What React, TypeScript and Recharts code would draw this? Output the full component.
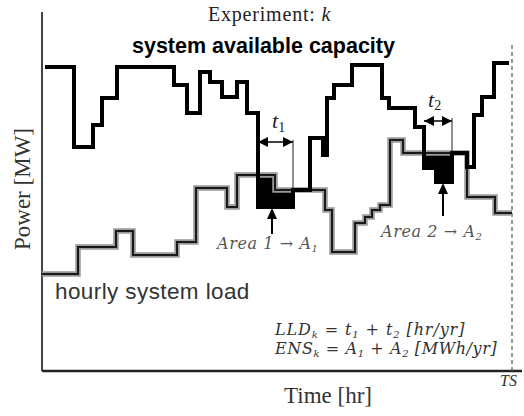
import React from 'react'
import { ComposedChart, Line, Area, XAxis, YAxis, ReferenceLine, ReferenceDot } from 'recharts'

// step breakpoints (x = time, y = power, arbitrary units)
const capacityX = [3, 32, 51, 60, 75, 132, 145, 158, 168, 180, 195, 205, 216, 251, 268, 281, 285, 292, 310, 340, 347, 373, 382, 394, 410, 425, 432, 440, 452, 467]
const capacityY = [304, 224, 246, 273, 304, 286, 258, 299, 289, 274, 289, 258, 164, 181, 233, 216, 273, 286, 306, 273, 263, 244, 203, 189, 218, 204, 256, 274, 308, 308]

const loadX = [0, 36, 74, 91, 135, 154, 185, 195, 233, 283, 290, 313, 323, 330, 338, 348, 361, 425, 453, 470]
const loadY = [97, 124, 140, 116, 129, 183, 164, 196, 181, 161, 119, 148, 154, 161, 166, 231, 218, 174, 158, 158]

// energy not served: capacity (low) below load (high)
const area1X = [216, 233, 251]
const area1Low = [164, 164, 164]
const area1High = [196, 181, 181]
const area2X = [382, 394, 410]
const area2Low = [203, 189, 189]
const area2High = [218, 218, 218]

const TS = 470

const capacity = capacityX.map((t, i) => ({ t, p: capacityY[i] }))
const load = loadX.map((t, i) => ({ t, p: loadY[i] }))
const area1 = area1X.map((t, i) => ({ t, r: [area1Low[i], area1High[i]] }))
const area2 = area2X.map((t, i) => ({ t, r: [area2Low[i], area2High[i]] }))

const serif = "'Liberation Serif', 'DejaVu Serif', serif"
const mathSerif = "'DejaVu Serif', 'Liberation Serif', serif"
const sans = "'Liberation Sans', Arial, sans-serif"

const head = (dir: 'left' | 'right' | 'up') => (props: any) => {
  const { cx, cy } = props
  let d = ''
  if (dir === 'left') d = `M${cx},${cy} L${cx + 10},${cy - 5} L${cx + 10},${cy + 5} Z`
  if (dir === 'right') d = `M${cx},${cy} L${cx - 10},${cy - 5} L${cx - 10},${cy + 5} Z`
  if (dir === 'up') d = `M${cx},${cy} L${cx - 5},${cy + 11} L${cx + 5},${cy + 11} Z`
  return <path d={d} fill="#000" />
}

export default function App() {
  return (
    <div style={{ position: 'absolute', left: 0, top: 0, width: 524, height: 416, background: '#fff' }}>
      <ComposedChart width={524} height={416} margin={{ top: 12, right: 2, bottom: 45, left: 42 }}>
        <XAxis type="number" dataKey="t" domain={[0, 480]} allowDataOverflow hide />
        <YAxis type="number" domain={[0, 359]} allowDataOverflow hide />

        <ReferenceLine x={0} stroke="#444" strokeWidth={2} />
        <ReferenceLine y={0} stroke="#222" strokeWidth={2.5} />
        <ReferenceLine segment={[{ x: TS, y: 0 }, { x: TS, y: 326 }]} stroke="#555" strokeWidth={1.2} strokeDasharray="4 3" />

        <Line data={load} dataKey="p" type="stepAfter" stroke="#999" strokeWidth={5.5} dot={false} isAnimationActive={false} />
        <Line data={load} dataKey="p" type="stepAfter" stroke="#1a1a1a" strokeWidth={2} dot={false} isAnimationActive={false} />
        <Line data={capacity} dataKey="p" type="stepAfter" stroke="#000" strokeWidth={4} dot={false} isAnimationActive={false} />

        <Area data={area1} dataKey="r" type="stepAfter" fill="#000" fillOpacity={1} stroke="#333" strokeWidth={1} isAnimationActive={false} />
        <Area data={area2} dataKey="r" type="stepAfter" fill="#000" fillOpacity={1} stroke="#333" strokeWidth={1} isAnimationActive={false} />

        {/* t1 / t2 duration arrows */}
        <ReferenceLine segment={[{ x: 216, y: 229 }, { x: 251, y: 229 }]} stroke="#000" strokeWidth={1.5} />
        <ReferenceLine segment={[{ x: 251, y: 231 }, { x: 251, y: 181 }]} stroke="#222" strokeWidth={1} />
        <ReferenceDot x={216} y={229} shape={head('left')} />
        <ReferenceDot x={251} y={229} shape={head('right')} />
        <ReferenceLine segment={[{ x: 382, y: 250 }, { x: 410, y: 250 }]} stroke="#000" strokeWidth={1.5} />
        <ReferenceLine segment={[{ x: 410, y: 253 }, { x: 410, y: 218 }]} stroke="#222" strokeWidth={1} />
        <ReferenceDot x={382} y={250} shape={head('left')} />
        <ReferenceDot x={410} y={250} shape={head('right')} />

        {/* area pointers */}
        <ReferenceLine segment={[{ x: 230, y: 137 }, { x: 230, y: 158 }]} stroke="#000" strokeWidth={2} />
        <ReferenceDot x={230} y={163} shape={head('up')} />
        <ReferenceLine segment={[{ x: 401, y: 155 }, { x: 401, y: 182 }]} stroke="#000" strokeWidth={2} />
        <ReferenceDot x={401} y={188} shape={head('up')} />

        <text x={208} y={21} fontFamily={serif} fontSize={20} letterSpacing={0.8} fill="#222">
          Experiment: <tspan fontStyle="italic">k</tspan>
        </text>
        <text x={132} y={53} fontFamily={sans} fontSize={21.5} fontWeight="bold" fill="#000">
          system available capacity
        </text>
        <text x={55} y={299} fontFamily={sans} fontSize={22.5} letterSpacing={0.4} fill="#333">
          hourly system load
        </text>

        <text x={272} y={128} fontFamily={serif} fontSize={22} fontStyle="italic" fill="#222">
          t<tspan fontSize={14} dy={4} fontStyle="normal">1</tspan>
        </text>
        <text x={428} y={107} fontFamily={serif} fontSize={22} fontStyle="italic" fill="#222">
          t<tspan fontSize={14} dy={3} fontStyle="normal">2</tspan>
        </text>

        <text x={217} y={249} fontFamily={mathSerif} fontSize={16} letterSpacing={0.6} fontStyle="italic" fill="#555">
          Area 1 → A<tspan fontSize={10} dy={3}>1</tspan>
        </text>
        <text x={381} y={237} fontFamily={mathSerif} fontSize={16} letterSpacing={0.6} fontStyle="italic" fill="#555">
          Area 2 → A<tspan fontSize={10} dy={3}>2</tspan>
        </text>

        <text x={275} y={335} fontFamily={mathSerif} fontSize={16} letterSpacing={0.9} fontStyle="italic" fill="#333">
          LLD<tspan fontSize={10} dy={3}>k</tspan>
          <tspan dy={-3}> = t</tspan>
          <tspan fontSize={10} dy={3}>1</tspan>
          <tspan dy={-3}> + t</tspan>
          <tspan fontSize={10} dy={3}>2</tspan>
          <tspan dy={-3}> [hr/yr]</tspan>
        </text>
        <text x={275} y={354} fontFamily={mathSerif} fontSize={16} letterSpacing={0.6} fontStyle="italic" fill="#333">
          ENS<tspan fontSize={10} dy={3}>k</tspan>
          <tspan dy={-3}> = A</tspan>
          <tspan fontSize={10} dy={3}>1</tspan>
          <tspan dy={-3}> + A</tspan>
          <tspan fontSize={10} dy={3}>2</tspan>
          <tspan dy={-3}> [MWh/yr]</tspan>
        </text>

        <text x={500} y={386} fontFamily={serif} fontSize={16} fontStyle="italic" fill="#333">TS</text>
        <text x={328} y={403} textAnchor="middle" fontFamily={serif} fontSize={23} fill="#333">Time [hr]</text>
        <text x={30} y={189} textAnchor="middle" transform="rotate(-90, 30, 189)" fontFamily={serif} fontSize={23} fill="#333">
          Power [MW]
        </text>
      </ComposedChart>
    </div>
  )
}
